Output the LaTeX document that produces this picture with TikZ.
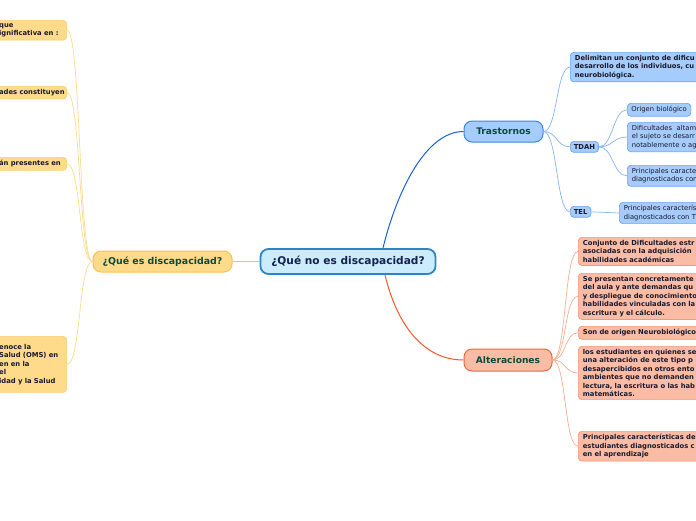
\documentclass[tikz,border=0pt]{standalone}
\usepackage{fontspec}
\setmainfont{DejaVu Sans}
\definecolor{cenF}{HTML}{CCEBFB}
\definecolor{cenB}{HTML}{2A86C6}
\definecolor{navy}{HTML}{14224E}
\definecolor{dgreen}{HTML}{0E4A3C}
\definecolor{ylF}{HTML}{FEDB8A}
\definecolor{ylB}{HTML}{F9C24C}
\definecolor{ylC}{HTML}{F8D070}
\definecolor{ylL}{HTML}{FCDC8E}
\definecolor{blF}{HTML}{A5CCFA}
\definecolor{blB}{HTML}{3D86E2}
\definecolor{blC}{HTML}{6FA6EE}
\definecolor{blL}{HTML}{86B5F3}
\definecolor{blM}{HTML}{1862D4}
\definecolor{orF}{HTML}{FBBCA6}
\definecolor{orB}{HTML}{F06A3A}
\definecolor{orC}{HTML}{F39A79}
\definecolor{orL}{HTML}{F6AE93}
\definecolor{orM}{HTML}{EF5A2A}
\definecolor{txt}{HTML}{1A1A2E}
\begin{document}
\begin{tikzpicture}[x=1pt,y=-1pt,
  child/.style={rounded corners=3.5pt, line width=0.7pt, align=left, anchor=north west,
    inner xsep=4.5pt, inner ysep=3pt, text=txt,
    execute at begin node={\hyphenpenalty=10000\exhyphenpenalty=10000\hbadness=10000\hfuzz=20pt},
    font=\bfseries\fontsize{6.8}{8.4}\selectfont},
  reg/.style={font=\fontsize{6.8}{8.4}\selectfont},
  ychild/.style={child, draw=ylC, fill=ylF, anchor=north east},
  bchild/.style={child, draw=blC, fill=blF},
  ochild/.style={child, draw=orC, fill=orF},
  branch/.style={rounded corners=8pt, line width=1pt, text=dgreen,
    font=\bfseries\fontsize{9.1}{10.5}\selectfont},
  yline/.style={draw=ylL, line width=0.7pt},
  bline/.style={draw=blL, line width=0.7pt},
  oline/.style={draw=orL, line width=0.7pt}]
\useasboundingbox (0,0) rectangle (696,520);
\clip (0,0) rectangle (696,520);
\fill[white] (0,0) rectangle (696,520);

% main nodes
\node[draw=cenB, fill=cenF, line width=1.8pt, rounded corners=8pt,
  minimum width=175pt, minimum height=25pt, text=navy,
  font=\bfseries\fontsize{10.6}{12}\selectfont] (c) at (348,261.5) {¿Qué no es discapacidad?};
\node[branch, draw=ylB, fill=ylF, minimum width=139pt, minimum height=21pt,
  font=\bfseries\fontsize{9.4}{11}\selectfont] (L) at (162.5,261.5) {¿Qué es discapacidad?};
\node[branch, draw=blB, fill=blF, minimum width=79pt, minimum height=21pt] (T) at (503.5,131.5) {Trastornos};
\node[branch, draw=orB, fill=orF, minimum width=88pt, minimum height=22pt] (A) at (508,360) {Alteraciones};

% left children
\node[ychild, text width=63pt] (n1) at (67,20) {que\\ignificativa~en~:};
\node[ychild, text width=63pt] (n2) at (67,86) {ades~constituyen};
\node[ychild, text width=63pt] (n3) at (67,157) {án~presentes~en};
\node[ychild, text width=63pt, minimum height=56pt] (n4) at (67,336) {enoce~la\\Salud~(OMS)~en\\en~en~la\\el\\idad~y~la~Salud\\[8.4pt]};

% Trastornos children
\node[bchild, text width=200pt] (t1) at (570,52) {Delimitan un conjunto de dificu\\desarrollo de los individuos, cu\\neurobiológica.};
\node[bchild, inner xsep=3.5pt] (tdah) at (570,141) {TDAH};
\node[bchild, inner xsep=3.5pt] (tel) at (570,206) {TEL};
\node[bchild, reg, inner xsep=4pt] (o1) at (627,103) {Origen biológico};
\node[bchild, reg, text width=200pt] (o2) at (627,122) {Dificultades\ \ altam\\el sujeto se desarr\\notablemente o ag};
\node[bchild, reg, text width=200pt] (o3) at (627,165) {Principales caracte\\diagnosticados con};
\node[bchild, reg, text width=200pt] (e1) at (619,202) {Principales caracterís\\diagnosticados con T};

% Alteraciones children
\node[ochild, text width=200pt] (a1) at (578,237) {Conjunto de Dificultades estr\\asociadas con la adquisición\\habilidades académicas};
\node[ochild, text width=200pt] (a2) at (578,273) {Se presentan concretamente\\del aula y ante demandas qu\\y despliegue de conocimiento\\habilidades vinculadas con la\\escritura y el cálculo.};
\node[ochild, text width=200pt] (a3) at (578,326) {Son de origen Neurobiológico};
\node[ochild, text width=200pt] (a4) at (578,346) {los estudiantes en quienes se\\una alteración de este tipo p\\desapercibidos en otros ento\\ambientes que no demanden\\lectura, la escritura o las hab\\matemáticas.};
\node[ochild, text width=200pt] (a5) at (578,431) {Principales características de\\estudiantes diagnosticados c\\en el aprendizaje};

% main connectors
\draw[ylB, line width=1pt] (L.east) -- (c.west);
\draw[blM, line width=1pt] ([xshift=35pt]c.north) .. controls +(12,-50) and +(-40,0) .. (T.west);
\draw[orM, line width=1pt] ([xshift=37pt]c.south) .. controls +(12,50) and +(-40,0) .. (A.west);

% left connectors
\foreach \n in {n1,n2,n3,n4}
  \draw[yline] (L.west) .. controls +(-14,0) and +(14,0) .. (\n.east);

% Trastornos connectors
\foreach \n in {t1,tdah,tel}
  \draw[bline] (T.east) .. controls +(14,0) and +(-14,0) .. (\n.west);
\foreach \n in {o1,o2,o3}
  \draw[bline] (tdah.east) .. controls +(14,0) and +(-14,0) .. (\n.west);
\draw[bline] (tel.east) -- (e1.west);

% Alteraciones connectors
\foreach \n in {a1,a2,a3,a4,a5}
  \draw[oline] (A.east) .. controls +(14,0) and +(-14,0) .. (\n.west);
\end{tikzpicture}
\end{document}
